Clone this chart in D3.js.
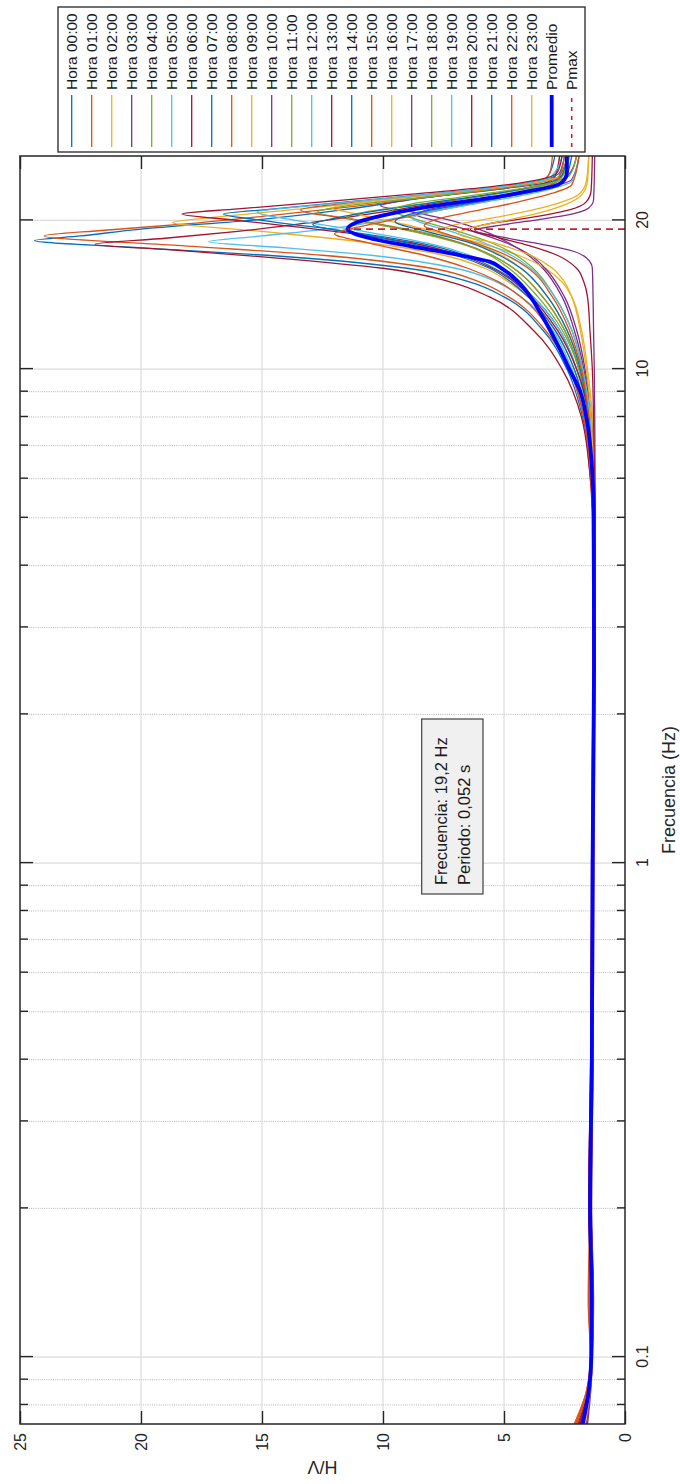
<!DOCTYPE html>
<html><head><meta charset="utf-8">
<script src="https://cdn.jsdelivr.net/npm/d3@7"></script>
<style>
html,body{margin:0;padding:0;background:#fff;}
svg{display:block;font-family:"Liberation Sans",Arial,Helvetica,sans-serif;}
</style></head><body>
<svg id="chart" width="680" height="1484"></svg>
<script>
// ---------------- DATA ----------------
const hourLabels = ["Hora 00:00","Hora 01:00","Hora 02:00","Hora 03:00","Hora 04:00","Hora 05:00",
  "Hora 06:00","Hora 07:00","Hora 08:00","Hora 09:00","Hora 10:00","Hora 11:00","Hora 12:00",
  "Hora 13:00","Hora 14:00","Hora 15:00","Hora 16:00","Hora 17:00","Hora 18:00","Hora 19:00",
  "Hora 20:00","Hora 21:00","Hora 22:00","Hora 23:00"];
const seriesColors = ["#0072BD","#D95319","#EDB120","#7E2F8E","#77AC30","#4DBEEE","#A2142F"];
const freqTicks = [0.1, 1, 10, 20];
const freqTickLabels = ["0.1", "1", "10", "20"];
const minorFreqTicks = [0.08,0.09,0.2,0.3,0.4,0.5,0.6,0.7,0.8,0.9,2,3,4,5,6,7,8,9];
const hvTicks = [0, 5, 10, 15, 20, 25];
const hvTickLabels = ["0","5","10","15","20","25"];
const freqDomain = [0.0732, 27];
const hvDomain = [0, 25];
const xLabel = "Frecuencia (Hz)";
const yLabel = "H/V";
const annotationLines = ["Frecuencia: 19,2 Hz", "Periodo: 0,052 s"];
const pmaxFreq = 19.2;
const pmaxHV = 11.46;

// [frequency Hz, H/V]
const hora00 = [[0.0732,1.85],[0.085,1.5],[0.1,1.4],[0.13,1.36],[0.2,1.45],[0.4,1.38],[1,1.36],[2.5,1.3],[5,1.3],[6.5,1.42],[8,1.75],[10,2.4],[12,3.4],[14,5.0],[15,6.4],[16,9.0],[17,14.8],[17.6,20],[18.2,24.4],[18.6,22.5],[19.2,20],[20.1,15],[21,11.7],[22.1,8.6],[23,6],[23.7,4],[24.5,3.2],[27,2.9]];
const hora01 = [[0.0732,2.1],[0.085,1.6],[0.1,1.42],[0.13,1.5],[0.2,1.42],[0.4,1.4],[1,1.38],[2.5,1.32],[5,1.33],[6.5,1.5],[8,1.7],[10,2.3],[12,3.3],[14,4.8],[15,6.0],[16,8],[17,12.5],[17.8,18.5],[18.6,24.0],[19.1,21.5],[19.7,18],[20.5,14.5],[21.4,11],[22.4,7.8],[23.2,5],[24,3.5],[25,3.1],[27,3.0]];
const hora02 = [[0.0732,1.7],[0.085,1.48],[0.1,1.38],[0.13,1.35],[0.2,1.47],[0.4,1.36],[1,1.34],[2.5,1.28],[5,1.3],[6.5,1.4],[8,1.6],[10,2.1],[12,2.9],[14,4.0],[15,4.8],[16,5.8],[17,7.5],[18,10.5],[19,15],[19.8,18.7],[20.4,16.5],[21.2,13],[22,9.5],[23,6],[23.8,3.8],[24.6,2.9],[27,2.7]];
const hora03 = [[0.0732,1.6],[0.085,1.45],[0.1,1.36],[0.13,1.32],[0.2,1.4],[0.4,1.33],[1,1.3],[2.5,1.25],[5,1.24],[6.5,1.3],[8,1.4],[10,1.7],[12,2.1],[14,2.6],[16,3.4],[17,4.0],[18,4.8],[19,5.8],[20,7.2],[20.8,8.8],[21.4,10.1],[22,9],[22.6,7],[23.2,5],[23.8,3.3],[24.5,2.4],[27,2.0]];
const hora04 = [[0.0732,1.75],[0.085,1.5],[0.1,1.4],[0.13,1.37],[0.2,1.44],[0.4,1.37],[1,1.33],[2.5,1.28],[5,1.28],[6.5,1.38],[8,1.5],[10,1.9],[12,2.6],[14,3.6],[16,4.8],[17,5.6],[18,6.8],[19,8.5],[20,11],[20.8,12.7],[21.4,11.5],[22.2,8.5],[23,5.8],[23.8,3.6],[24.6,2.6],[27,2.3]];
const hora05 = [[0.0732,1.65],[0.085,1.46],[0.1,1.37],[0.13,1.35],[0.2,1.45],[0.4,1.35],[1,1.35],[2.5,1.29],[5,1.3],[6.5,1.42],[8,1.6],[10,2.2],[12,3.0],[14,4.3],[15,5.3],[16,7.0],[17,10.5],[17.6,14],[18.1,17.2],[18.6,15],[19.3,12],[20.2,9.5],[21.2,7.5],[22.2,5.5],[23.2,3.8],[24.2,2.8],[27,2.5]];
const hora06 = [[0.0732,1.95],[0.085,1.55],[0.1,1.44],[0.13,1.4],[0.2,1.5],[0.4,1.41],[1,1.37],[2.5,1.32],[5,1.35],[6.5,1.5],[8,1.8],[10,2.6],[12,3.8],[14,5.6],[15,7.2],[16,10],[16.8,14.5],[17.4,18.5],[17.9,21.9],[18.4,19],[19,16],[19.8,13],[20.8,10],[21.8,7.5],[22.8,5],[23.6,3.5],[24.5,2.9],[27,2.7]];
const hora07 = [[0.0732,1.7],[0.085,1.47],[0.1,1.38],[0.13,1.34],[0.2,1.43],[0.4,1.36],[1,1.33],[2.5,1.27],[5,1.28],[6.5,1.36],[8,1.5],[10,2.0],[12,2.7],[14,3.8],[16,5.4],[17,6.6],[18,8.5],[19,11.5],[20,15],[20.6,16.6],[21.1,14.5],[21.8,11.5],[22.6,8],[23.4,5],[24.2,3.3],[25,2.7],[27,2.5]];
const hora08 = [[0.0732,2.0],[0.085,1.58],[0.1,1.41],[0.13,1.48],[0.2,1.44],[0.4,1.42],[1,1.36],[2.5,1.3],[5,1.31],[6.5,1.38],[8,1.5],[10,1.9],[12,2.5],[14,3.4],[16,4.6],[17,5.5],[18,6.8],[19,8.7],[20,11],[21,13.4],[21.6,11.8],[22.3,9],[23,6.2],[23.8,3.8],[24.6,2.7],[27,2.4]];
const hora09 = [[0.0732,1.72],[0.085,1.49],[0.1,1.39],[0.13,1.36],[0.2,1.46],[0.4,1.37],[1,1.34],[2.5,1.28],[5,1.28],[6.5,1.36],[8,1.45],[10,1.8],[12,2.4],[14,3.2],[16,4.3],[17,5.1],[18,6.3],[19,7.9],[20,9.9],[20.7,11.3],[21.2,12.1],[21.8,10.8],[22.5,8.2],[23.2,5.6],[23.9,3.6],[24.7,2.6],[27,2.3]];
const hora10 = [[0.0732,1.55],[0.085,1.42],[0.1,1.35],[0.13,1.3],[0.2,1.38],[0.4,1.32],[1,1.28],[2.5,1.24],[5,1.23],[6.5,1.24],[8,1.25],[10,1.27],[12,1.3],[14,1.32],[16,1.35],[16.8,1.6],[17.3,2.1],[17.8,3.2],[18.4,4.8],[19.1,6.2],[19.6,5.0],[20.1,3.5],[20.6,2.2],[21.2,1.5],[22,1.3],[27,1.25]];
const hora11 = [[0.0732,1.78],[0.085,1.5],[0.1,1.39],[0.13,1.36],[0.2,1.44],[0.4,1.38],[1,1.33],[2.5,1.27],[5,1.28],[6.5,1.37],[8,1.5],[10,1.9],[12,2.5],[14,3.4],[16,4.6],[17,5.5],[18,6.9],[19,8.8],[19.8,10.6],[20.3,11.5],[20.9,10.5],[21.7,8],[22.5,5.7],[23.3,3.8],[24.1,2.7],[27,2.3]];
const hora12 = [[0.0732,1.68],[0.085,1.47],[0.1,1.37],[0.13,1.34],[0.2,1.43],[0.4,1.35],[1,1.34],[2.5,1.28],[5,1.29],[6.5,1.38],[8,1.55],[10,2.0],[12,2.7],[14,3.8],[16,5.2],[17,6.4],[18,8.2],[19,10.8],[20,13.6],[20.8,15.2],[21.3,13.5],[22,10.5],[22.8,7.2],[23.6,4.5],[24.4,3.1],[27,2.6]];
const hora13 = [[0.0732,1.9],[0.085,1.53],[0.1,1.42],[0.13,1.38],[0.2,1.5],[0.4,1.42],[1,1.36],[2.5,1.3],[5,1.3],[6.5,1.38],[8,1.5],[10,2.0],[12,2.8],[14,3.9],[16,5.5],[17,6.8],[18,8.8],[19,12],[20,16],[20.6,18.3],[21.1,16],[21.8,12.5],[22.6,8.8],[23.4,5.5],[24.2,3.5],[25,2.8],[27,2.6]];
const hora14 = [[0.0732,1.8],[0.085,1.5],[0.1,1.4],[0.13,1.37],[0.2,1.45],[0.4,1.39],[1,1.35],[2.5,1.3],[5,1.31],[6.5,1.42],[8,1.6],[10,2.1],[12,2.9],[14,4.0],[15,4.7],[16,5.6],[17,7],[18,9],[19,11.6],[19.6,12.9],[20.2,12],[21,10],[22,7.2],[23,4.6],[23.8,3.2],[24.7,2.6],[27,2.4]];
const hora15 = [[0.0732,2.05],[0.085,1.6],[0.1,1.43],[0.13,1.52],[0.2,1.45],[0.4,1.4],[1,1.38],[2.5,1.32],[5,1.34],[6.5,1.46],[8,1.7],[10,2.3],[12,3.1],[14,4.3],[15,5.2],[16,6.5],[17,8.3],[18,10.6],[18.8,12],[19.4,11],[20.2,9.3],[21.2,7.2],[22.2,5.2],[23.1,3.7],[24,2.8],[27,2.5]];
const hora16 = [[0.0732,1.62],[0.085,1.44],[0.1,1.36],[0.13,1.33],[0.2,1.41],[0.4,1.33],[1,1.3],[2.5,1.26],[5,1.26],[6.5,1.3],[8,1.35],[10,1.55],[12,1.8],[14,2.2],[15,2.6],[16,3.3],[17,4.4],[18,6.0],[19,7.7],[19.6,7.0],[20.3,5.3],[21,3.8],[21.8,2.6],[22.6,1.9],[24,1.6],[27,1.5]];
const hora17 = [[0.0732,1.6],[0.085,1.44],[0.1,1.36],[0.13,1.32],[0.2,1.4],[0.4,1.34],[1,1.3],[2.5,1.25],[5,1.25],[6.5,1.32],[8,1.4],[10,1.65],[12,2.0],[14,2.5],[16,3.3],[17,3.9],[18,4.9],[19,6.3],[20,7.9],[20.5,8.6],[21.1,8],[21.8,6.3],[22.6,4.5],[23.4,3.0],[24.2,2.2],[27,1.9]];
const hora18 = [[0.0732,1.74],[0.085,1.49],[0.1,1.39],[0.13,1.36],[0.2,1.44],[0.4,1.36],[1,1.32],[2.5,1.27],[5,1.27],[6.5,1.35],[8,1.45],[10,1.75],[12,2.2],[14,2.9],[16,3.8],[17,4.5],[18,5.5],[19,6.9],[20,8.5],[21,9.6],[21.6,8.8],[22.3,6.8],[23,4.8],[23.8,3.1],[24.6,2.3],[27,2.0]];
const hora19 = [[0.0732,1.66],[0.085,1.46],[0.1,1.37],[0.13,1.34],[0.2,1.42],[0.4,1.35],[1,1.32],[2.5,1.27],[5,1.27],[6.5,1.35],[8,1.45],[10,1.75],[12,2.2],[14,2.9],[16,3.9],[17,4.7],[18,5.8],[19,7.2],[19.7,8.3],[20.2,8.8],[20.8,8],[21.6,6.2],[22.4,4.4],[23.2,3.0],[24,2.2],[27,1.9]];
const hora20 = [[0.0732,1.85],[0.085,1.52],[0.1,1.4],[0.13,1.36],[0.2,1.48],[0.4,1.4],[1,1.33],[2.5,1.27],[5,1.25],[6.5,1.27],[8,1.3],[10,1.35],[12,1.45],[14,1.55],[15,1.7],[16,2.0],[17,2.8],[17.8,4.0],[18.5,5.3],[19.2,6.4],[19.7,5.6],[20.3,3.8],[21,2.3],[21.8,1.6],[23,1.4],[27,1.35]];
const hora21 = [[0.0732,1.76],[0.085,1.5],[0.1,1.39],[0.13,1.35],[0.2,1.44],[0.4,1.37],[1,1.33],[2.5,1.28],[5,1.28],[6.5,1.37],[8,1.5],[10,1.85],[12,2.4],[14,3.2],[16,4.3],[17,5.2],[18,6.4],[19,8.2],[19.9,9.5],[20.5,9],[21.3,7.3],[22.2,5.2],[23,3.6],[23.8,2.6],[27,2.2]];
const hora22 = [[0.0732,2.0],[0.085,1.57],[0.1,1.41],[0.13,1.46],[0.2,1.43],[0.4,1.4],[1,1.35],[2.5,1.29],[5,1.29],[6.5,1.37],[8,1.5],[10,1.8],[12,2.3],[14,3.0],[16,4.0],[17,4.9],[18,6.2],[19,7.7],[19.5,8.3],[20.1,7.8],[20.9,6.2],[21.8,4.4],[22.7,3.0],[23.6,2.2],[27,1.9]];
const hora23 = [[0.0732,1.64],[0.085,1.45],[0.1,1.36],[0.13,1.33],[0.2,1.41],[0.4,1.34],[1,1.31],[2.5,1.26],[5,1.26],[6.5,1.32],[8,1.4],[10,1.6],[12,1.85],[14,2.2],[15,2.5],[16,3.0],[17,3.9],[18,5.4],[18.8,6.9],[19.4,6.2],[20,4.9],[20.8,3.4],[21.6,2.4],[22.5,1.8],[24,1.55],[27,1.5]];
const promedio = [[0.0732,1.75],[0.085,1.5],[0.1,1.39],[0.13,1.37],[0.2,1.44],[0.4,1.37],[1,1.34],[2.5,1.28],[5,1.29],[6.5,1.38],[8,1.6],[9,1.85],[10,2.3],[11,2.7],[12,3.1],[13,3.5],[14,3.9],[15,4.4],[16,5.1],[16.5,5.6],[17,6.8],[17.5,8.2],[18,9.6],[18.6,10.9],[19.2,11.46],[19.8,11.1],[20.5,9.95],[21.4,7.9],[22.4,5.1],[23,3.8],[23.5,2.9],[24.2,2.5],[25,2.4],[27,2.4]];

const hourSeries = [hora00,hora01,hora02,hora03,hora04,hora05,hora06,hora07,hora08,hora09,hora10,hora11,
  hora12,hora13,hora14,hora15,hora16,hora17,hora18,hora19,hora20,hora21,hora22,hora23];

// ---------------- LAYOUT (figure drawn in its original orientation, then rotated) ----------------
const FIG_W = 1484, FIG_H = 680;
const M = {left: 60, top: 20};
const W = 1268, H = 605;
const tickFont = 16, labelFont = 18, legendFont = 15.5, annFont = 16.5;
const axisColor = "#262626";

const svg = d3.select("#chart");
const fig = svg.append("g").attr("transform", `translate(0,${FIG_W}) rotate(-90)`);

const x = d3.scaleLog().domain(freqDomain).range([0, W]);
const y = d3.scaleLinear().domain(hvDomain).range([H, 0]);

const plot = fig.append("g").attr("transform", `translate(${M.left},${M.top})`);
plot.append("rect").attr("width", W).attr("height", H).attr("fill", "#fff");

// grid
const grid = plot.append("g");
grid.selectAll(".minor").data(minorFreqTicks).join("line")
  .attr("x1", d => x(d)).attr("x2", d => x(d)).attr("y1", 0).attr("y2", H)
  .attr("stroke", "#b4b4b4").attr("stroke-width", 1).attr("stroke-dasharray", "1,1.2");
grid.selectAll(".fmaj").data(freqTicks).join("line")
  .attr("x1", d => x(d)).attr("x2", d => x(d)).attr("y1", 0).attr("y2", H)
  .attr("stroke", "#dcdcdc").attr("stroke-width", 1.2);
grid.selectAll(".hmaj").data(hvTicks.slice(1, -1)).join("line")
  .attr("x1", 0).attr("x2", W).attr("y1", d => y(d)).attr("y2", d => y(d))
  .attr("stroke", "#dcdcdc").attr("stroke-width", 1.2);

// curves
plot.append("clipPath").attr("id", "clip").append("rect").attr("width", W).attr("height", H);
const lineGen = d3.line().x(d => x(d[0])).y(d => y(d[1])).curve(d3.curveMonotoneX);
const curves = plot.append("g").attr("clip-path", "url(#clip)");
curves.selectAll(".hour").data(hourSeries).join("path")
  .attr("d", lineGen).attr("fill", "none")
  .attr("stroke", (d, i) => seriesColors[i % seriesColors.length])
  .attr("stroke-width", 1.3).attr("stroke-linejoin", "round");
curves.append("path").datum(promedio).attr("d", lineGen).attr("fill", "none")
  .attr("stroke", "#0000FF").attr("stroke-width", 3.8).attr("stroke-linejoin", "round");
curves.append("path").datum([[pmaxFreq, 0], [pmaxFreq, pmaxHV]]).attr("d", d3.line().x(d => x(d[0])).y(d => y(d[1])))
  .attr("fill", "none").attr("stroke", "#c0272d").attr("stroke-width", 1.6).attr("stroke-dasharray", "7,5");

// axes
function styleAxis(g) {
  g.select(".domain").remove();
  g.selectAll(".tick line").attr("stroke", axisColor).attr("stroke-width", 1.4);
  g.selectAll("text").attr("fill", "#262626").attr("font-size", tickFont)
    .attr("font-family", '"Liberation Sans", Arial, sans-serif');
}
const xb = plot.append("g").attr("transform", `translate(0,${H})`)
  .call(d3.axisBottom(x).tickValues(freqTicks).tickFormat((d, i) => freqTickLabels[i]).tickSize(-13).tickSizeOuter(0));
styleAxis(xb);
xb.selectAll("text").attr("y", 23).attr("dy", null);
const xbm = plot.append("g").attr("transform", `translate(0,${H})`)
  .call(d3.axisBottom(x).tickValues(minorFreqTicks).tickFormat("").tickSize(-8).tickSizeOuter(0));
styleAxis(xbm);
const xt = plot.append("g").call(d3.axisTop(x).tickValues(freqTicks).tickFormat("").tickSize(-13).tickSizeOuter(0));
styleAxis(xt);
const xtm = plot.append("g").call(d3.axisTop(x).tickValues(minorFreqTicks).tickFormat("").tickSize(-8).tickSizeOuter(0));
styleAxis(xtm);
const yl = plot.append("g")
  .call(d3.axisLeft(y).tickValues(hvTicks).tickFormat((d, i) => hvTickLabels[i]).tickSize(-13).tickPadding(9).tickSizeOuter(0));
styleAxis(yl);
yl.selectAll("text").attr("dy", "0.35em");
const yr = plot.append("g").attr("transform", `translate(${W},0)`)
  .call(d3.axisRight(y).tickValues(hvTicks).tickFormat("").tickSize(-13).tickSizeOuter(0));
styleAxis(yr);

plot.append("rect").attr("width", W).attr("height", H).attr("fill", "none")
  .attr("stroke", axisColor).attr("stroke-width", 1.5);

// axis labels
fig.append("text").attr("x", M.left + W / 2).attr("y", 675).attr("text-anchor", "middle")
  .attr("font-size", labelFont).attr("fill", "#262626").text(xLabel);
fig.append("text").attr("transform", `translate(23,${M.top + H / 2}) rotate(-90)`).attr("text-anchor", "middle")
  .attr("font-size", labelFont).attr("fill", "#262626").text(yLabel);

// annotation box
const ann = fig.append("g");
ann.append("rect").attr("x", 590).attr("y", 421.7).attr("width", 175).attr("height", 61.3)
  .attr("fill", "#f0f0f0").attr("stroke", "#404040").attr("stroke-width", 1.2);
ann.selectAll("text").data(annotationLines).join("text")
  .attr("x", 599).attr("y", (d, i) => 446.5 + i * 23.5)
  .attr("font-size", annFont).attr("fill", "#1a1a1a").text(d => d);

// legend
const legendItems = hourLabels.map((lab, i) => ({label: lab, color: seriesColors[i % seriesColors.length], width: 1.3, dash: null}))
  .concat([{label: "Promedio", color: "#0000FF", width: 3.8, dash: null},
           {label: "Pmax", color: "#c0272d", width: 1.6, dash: "4,5"}]);
const leg = fig.append("g");
leg.append("rect").attr("x", 1332).attr("y", 58).attr("width", 145).attr("height", 527)
  .attr("fill", "#fff").attr("stroke", "#262626").attr("stroke-width", 1.3);
const item = leg.selectAll(".item").data(legendItems).join("g")
  .attr("transform", (d, i) => `translate(0,${71.7 + i * 20})`);
item.append("line").attr("x1", 1337).attr("x2", 1389).attr("y1", 0).attr("y2", 0)
  .attr("stroke", d => d.color).attr("stroke-width", d => d.width).attr("stroke-dasharray", d => d.dash);
item.append("text").attr("x", 1394).attr("y", 5.5).attr("font-size", legendFont).attr("fill", "#1a1a1a")
  .text(d => d.label);
</script>
</body></html>
